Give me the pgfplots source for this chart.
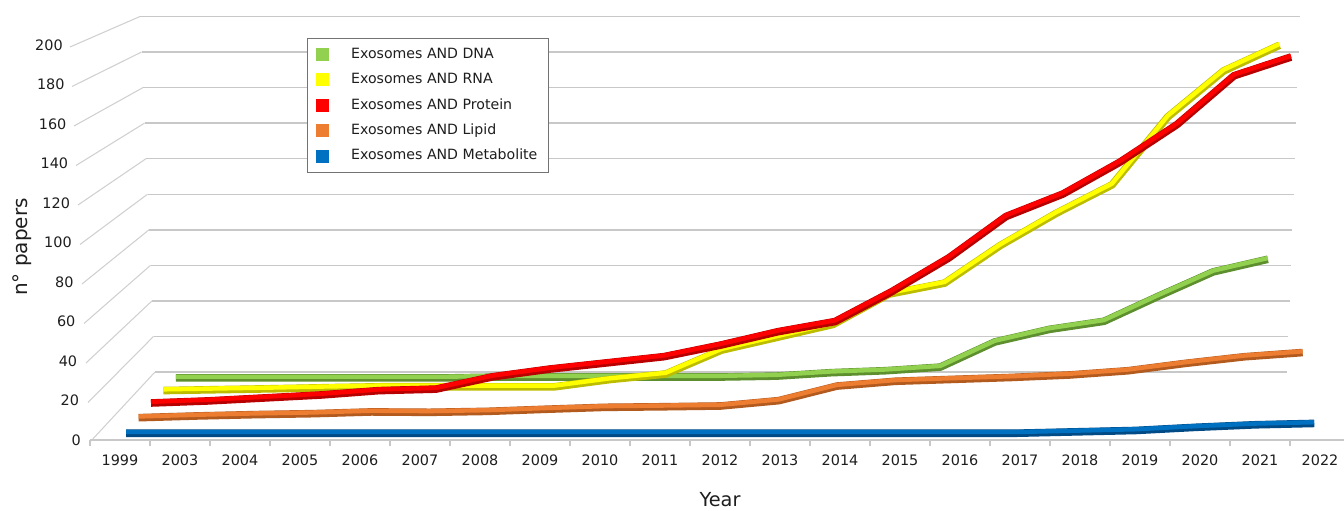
\documentclass[border=0pt]{standalone}
\usepackage{fontspec}
\setmainfont{DejaVu Sans}
\usepackage{pgfplots}
\pgfplotsset{compat=1.18}
\usepackage{pgfplotstable}

\definecolor{dnaL}{HTML}{92D050}
\definecolor{dnaD}{HTML}{5E8F2E}
\definecolor{rnaL}{HTML}{FFFF00}
\definecolor{rnaD}{HTML}{BDBD00}
\definecolor{proL}{HTML}{FF0000}
\definecolor{proD}{HTML}{B80000}
\definecolor{lipL}{HTML}{ED7D31}
\definecolor{lipD}{HTML}{B35A1F}
\definecolor{metL}{HTML}{0070C0}
\definecolor{metD}{HTML}{004A85}
\definecolor{gridc}{HTML}{C8C8C8}
\definecolor{txt}{HTML}{1E1E1E}

% papers per year; i = category index (1999, 2003, ..., 2022)
\pgfplotstableread{
i  dna  rna  pro  lip  met
0  0.5  1    1.6  1    0
1  0.5  1.5  2.7  1.9  0
2  0.5  2    4.3  2.6  0
3  0.5  2.6  5.9  3.1  0
4  0.5  3.1  8.2  4    0
5  0.5  3.1  9    3.8  0
6  1    3    15.6 4.3  0
7  1    3    19.7 5.4  0
8  1    7    23   6.4  0
9  1    10   26.3 6.7  0
10 1    23   32.5 7.1  0
11 1.5  30   39.6 9.9  0
12 3.4  37   45   17.5 0
13 4.5  53.5 61   20   0
14 6.5  59.5 79   21   0
15 20.5 80   101  22   0
16 27.5 97.5 113  23.3 0.7
17 32   113  130  25.5 1.4
18 46   150  150  29.4 3
19 59.5 175  176  32.8 4.3
20 66.5 189  186  35   5
}\papers

\pgfplotsset{ribbon axis/.style={hide axis, clip=false, enlargelimits=false,
  xmin=0, xmax=20, ymin=0, ymax=200, anchor=south west}}

% one series at depth factor #1 (perspective scale)
\newcommand\ribbon[4]{%
  \pgfmathsetmacro\xu{45*#1}%
  \pgfmathsetmacro\yu{1.48125*#1}%
  \pgfmathsetmacro\ox{(740-620*#1)*0.75}%
  \pgfmathsetmacro\oy{(750-680*#1)*0.75}%
  \begin{axis}[ribbon axis, x=\xu pt, y=\yu pt, at={(\ox pt,\oy pt)}]
    \addplot[#3, line width=5.7pt, line join=round] table[x=i, y=#2] {\papers};
    \addplot[#4, line width=3.3pt, line join=round, yshift=0.9pt] table[x=i, y=#2] {\papers};
  \end{axis}}

\begin{document}
\begin{tikzpicture}
\useasboundingbox (0,0) rectangle (1008pt,382.5pt);

% walls and floor
\begin{scope}[x=0.75pt, y=-0.75pt, shift={(0,382.5pt)}]
  \foreach \v in {0,20,...,200} {
    \draw[gridc, line width=1.1pt] ({155-0.075*\v},{372-1.7775*\v}) -- ({1287+0.065*\v},{372-1.7775*\v});
    \draw[gridc!85, line width=0.8pt] ({90-0.1*\v},{442-1.975*\v}) -- ({155-0.075*\v},{372-1.7775*\v});
  }
\end{scope}

\ribbon{0.91}{dna}{dnaD}{dnaL}
\ribbon{0.93}{rna}{rnaD}{rnaL}
\ribbon{0.95}{pro}{proD}{proL}
\ribbon{0.97}{lip}{lipD}{lipL}
\ribbon{0.99}{met}{metD}{metL}

\begin{axis}[
  x=45pt, y=1.48125pt, xmin=-0.5, xmax=20.5, ymin=0, ymax=200,
  at={(67.5pt,52.5pt)}, anchor=south west, enlargelimits=false, clip=false,
  axis x line*=bottom, axis y line*=left,
  y axis line style={draw=none},
  x axis line style={gridc, line width=1.4pt},
  /pgf/number format/assume math mode=true,
  tick align=outside, major tick length=0pt, minor tick length=4.5pt,
  ytick={0,20,...,200}, ytick style={draw=none},
  yticklabel={\pgfmathsetmacro\ysh{0.0675*\tick}\pgfmathprintnumber{\tick}\hspace*{\ysh pt}},
  yticklabel style={anchor=east, inner sep=0pt, xshift=-6.75pt},
  xtick={0,...,20},
  xticklabels={1999,2003,2004,2005,2006,2007,2008,2009,2010,2011,2012,2013,2014,2015,2016,2017,2018,2019,2020,2021,2022},
  major x tick style={draw=none},
  minor xtick={-0.5,0.5,...,20.5},
  minor x tick style={gridc, line width=1pt},
  xticklabel style={anchor=north, inner sep=0pt, yshift=-11pt},
  tick label style={font=\fontsize{10.8}{12}\selectfont, text=txt},
  xlabel={Year}, ylabel={n° papers},
  xlabel style={at={(axis description cs:0.5,-0.152)}, anchor=center, font=\fontsize{14.5}{16}\selectfont, text=txt},
  ylabel style={at={(axis description cs:-0.054,0.4886)}, anchor=center, font=\fontsize{15}{16}\selectfont, text=txt},
  legend image code/.code={\fill[#1] (0pt,-4.5pt) rectangle (9pt,4.5pt);},
  legend style={at={(axis description cs:0.1722,1.0177)}, anchor=north west,
    draw=black!55, line width=0.6pt, fill=white,
    font=\fontsize{10.6}{12}\selectfont, text=txt,
    inner xsep=6.25pt, inner ysep=4.75pt, column sep=15pt, row sep=4.6pt,
    nodes={inner sep=2pt, text height=8pt, text depth=2.5pt},
    cells={anchor=west}},
]
\addlegendimage{dnaL}\addlegendentry{Exosomes AND DNA}
\addlegendimage{rnaL}\addlegendentry{Exosomes AND RNA}
\addlegendimage{proL}\addlegendentry{Exosomes AND Protein}
\addlegendimage{lipL}\addlegendentry{Exosomes AND Lipid}
\addlegendimage{metL}\addlegendentry{Exosomes AND Metabolite}
\end{axis}
\end{tikzpicture}
\end{document}
